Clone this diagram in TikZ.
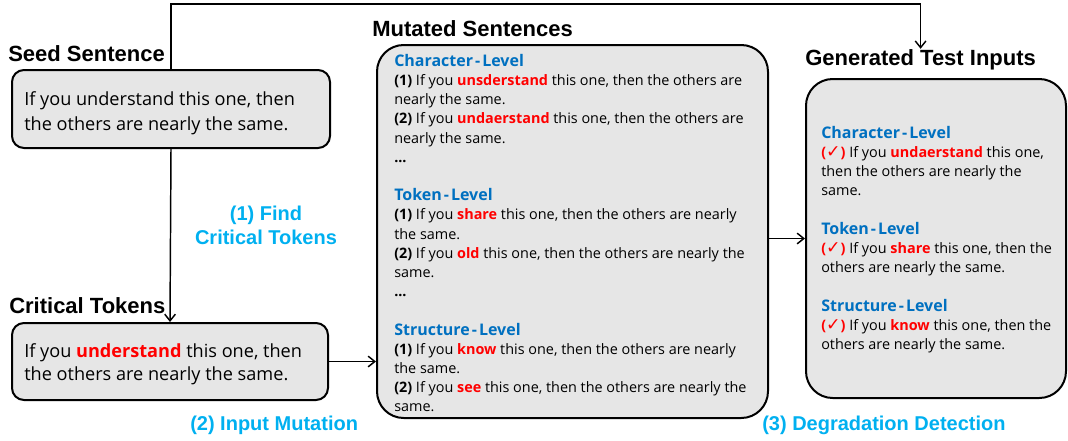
\documentclass[tikz,border=0pt]{standalone}
\usepackage{fontspec}
\setmainfont{Open Sans}
\newfontfamily\headfont{Liberation Sans}
\newfontfamily\tickfont{DejaVu Sans}
\usetikzlibrary{positioning}
\usetikzlibrary{fit}
\usetikzlibrary{arrows.meta}

\definecolor{stepblue}{RGB}{0,176,240}
\definecolor{levelblue}{RGB}{0,112,192}
\definecolor{boxgray}{RGB}{230,230,230}
\definecolor{mutred}{RGB}{255,0,0}

\newcommand{\mutword}[1]{\textcolor{mutred}{\textbf{#1}}}
\newcommand{\levelname}[2]{{\fontsize{12}{14.4}\selectfont\textcolor{levelblue}{\textbf{#1\kern1.5pt-\kern1.5pt#2}}}}
\newcommand{\okmark}{\textcolor{mutred}{\textbf{(}{\tickfont\bfseries\fontsize{13}{14.4}\selectfont ✓}\textbf{)}}}

\tikzset{
  roundbox/.style={draw, line width=1.5pt, fill=boxgray, inner sep=0pt},
  boxtitle/.style={font=\headfont\bfseries\fontsize{16.5}{18}\selectfont, inner sep=0pt, anchor=base west},
  steplabel/.style={font=\headfont\bfseries\fontsize{15}{17.5}\selectfont, text=stepblue, inner sep=0pt},
  flow/.style={line width=1.1pt, -{Straight Barb[length=5pt,width=8pt]}},
}

\begin{document}
\begin{tikzpicture}[x=0.75pt,y=-0.75pt]
  \useasboundingbox (0,0) rectangle (1068,440);

  % boxes
  \node[roundbox, rounded corners=9pt, fit={(12,70) (330,148)}] (seed) {};
  \node[roundbox, rounded corners=9pt, fit={(12,323) (328,400)}] (crit) {};
  \node[roundbox, rounded corners=20pt, fit={(377,45) (768,418)}] (mut) {};
  \node[roundbox, rounded corners=20pt, fit={(806,79) (1066,398)}] (gen) {};

  \node[boxtitle] (seedtitle) at (8,61) {Seed Sentence};
  \node[boxtitle] (crittitle) at (9,313) {Critical Tokens};
  \node[boxtitle] (muttitle) at (372,36) {Mutated Sentences};
  \node[boxtitle] (gentitle) at (805,65) {Generated Test Inputs};

  % multi-line texts sit on the baseline of their last line
  \node[anchor=base west, inner sep=0pt, align=left, font=\fontsize{13.6}{18.75}\selectfont] (seedtext) at (24,130)
    {If you understand this one, then\\the others are nearly the same.};
  \node[anchor=base west, inner sep=0pt, align=left, font=\fontsize{13.6}{16.8}\selectfont] (crittext) at (24,380)
    {If you \mutword{understand} this one, then\\the others are nearly the same.};

  \node[anchor=base west, inner sep=0pt, align=left, font=\fontsize{10.8}{14.4}\selectfont] (muttext) at (394,411.8)
    {\levelname{Character}{Level}\\
     \textbf{(1)} If you \mutword{unsderstand} this one, then the others are\\
     nearly the same.\\
     \textbf{(2)} If you \mutword{undaerstand} this one, then the others are\\
     nearly the same.\\
     \textbf{...}\\[14.4pt]
     \levelname{Token}{Level}\\
     \textbf{(1)} If you \mutword{share} this one, then the others are nearly\\
     the same.\\
     \textbf{(2)} If you \mutword{old} this one, then the others are nearly the\\
     same.\\
     \textbf{...}\\[14.4pt]
     \levelname{Structure}{Level}\\
     \textbf{(1)} If you \mutword{know} this one, then the others are nearly\\
     the same.\\
     \textbf{(2)} If you \mutword{see} this one, then the others are nearly the\\
     same.};

  \node[anchor=base west, inner sep=0pt, align=left, font=\fontsize{10.8}{14.4}\selectfont] (gentext) at (821,349.5)
    {\levelname{Character}{Level}\\
     \okmark{} If you \mutword{undaerstand} this one,\\
     then the others are nearly the\\
     same.\\[14.4pt]
     \levelname{Token}{Level}\\
     \okmark{} If you \mutword{share} this one, then the\\
     others are nearly the same.\\[14.4pt]
     \levelname{Structure}{Level}\\
     \okmark{} If you \mutword{know} this one, then the\\
     others are nearly the same.};

  \node[steplabel, align=center, anchor=base] (findlabel) at (266,244) {(1) Find\\Critical Tokens};
  \node[steplabel, anchor=base west] (mutlabel) at (190,430) {(2) Input Mutation};
  \node[steplabel, anchor=base west] (detlabel) at (762,430) {(3) Degradation Detection};

  % connectors
  \draw[flow] (seed.north) -- ++(0,-65) -| (gentitle.north);
  \draw[flow] (seed.south) -- (crit.north);
  \draw[flow] (crit.east) -- (crit.east -| mut.west);
  \draw[flow] (gen.west -| mut.east) -- (gen.west);
\end{tikzpicture}
\end{document}
